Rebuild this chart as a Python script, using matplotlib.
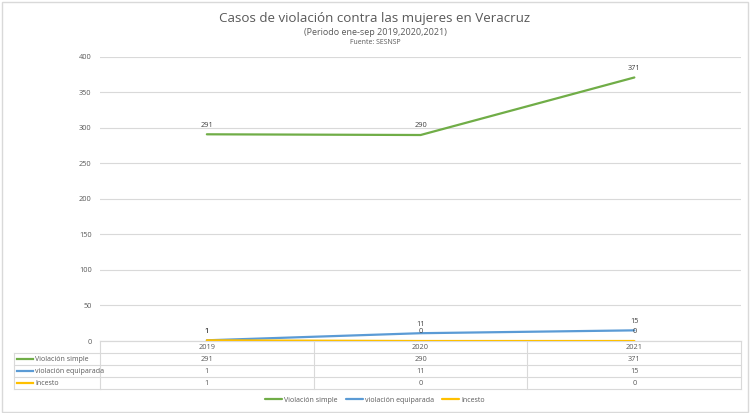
import numpy as np
import matplotlib.pyplot as plt
from matplotlib.lines import Line2D

plt.rcParams['font.family'] = ['Open Sans', 'DejaVu Sans']

anios = ['2019', '2020', '2021']
violacion_simple = [291, 290, 371]
violacion_equiparada = [1, 11, 15]
incesto = [1, 0, 0]

series = ['Violación simple', 'violación equiparada', 'Incesto']
valores = [violacion_simple, violacion_equiparada, incesto]
colores = ['#70AD47', '#5B9BD5', '#FFC000']

texto = '#595959'
grid = '#D9D9D9'

fig = plt.figure(figsize=(7.5, 4.13), dpi=100)
ax = fig.add_axes([0.1333, 0.1743, 0.855, 0.688])

x = np.arange(len(anios))
for nombre, vals, c in zip(series, valores, colores):
    ax.plot(x, vals, color=c, lw=1.6, label=nombre, solid_capstyle='round', zorder=3)

# etiquetas de datos
for vals in valores:
    for xi, v in zip(x, vals):
        ax.annotate(str(v), (xi, v), xytext=(0, 4), textcoords='offset points',
                    ha='center', va='bottom', fontsize=5.3, color='#404040')

ax.set_xlim(-0.5, len(anios) - 0.5)
ax.set_ylim(0, 400)
ax.set_yticks(range(0, 401, 50))
ax.yaxis.grid(True, color=grid, lw=0.8)
ax.set_axisbelow(True)
ax.tick_params(axis='y', labelsize=5.3, labelcolor=texto, length=0, pad=6)
ax.set_xticks([])
for s in ['top', 'right', 'left']:
    ax.spines[s].set_visible(False)
ax.spines['bottom'].set_color(grid)

# tabla de datos
trans = ax.get_xaxis_transform()
fila_h = 12 / 413 / 0.688  # alto de fila en fraccion de ejes
bordes_x = np.arange(len(anios) + 1) - 0.5
for i in range(5):
    y = -i * fila_h
    ax.plot([-0.5, 2.5], [y, y], color=grid, lw=0.8, transform=trans, clip_on=False)
for bx in bordes_x:
    ax.plot([bx, bx], [0, -4 * fila_h], color=grid, lw=0.8, transform=trans, clip_on=False)
for xi, a in zip(x, anios):
    ax.text(xi, -0.5 * fila_h, a, transform=trans, ha='center', va='center',
            fontsize=5.3, color=texto)
for j, (nombre, vals, c) in enumerate(zip(series, valores, colores)):
    yc = -(j + 1.5) * fila_h
    for xi, v in zip(x, vals):
        ax.text(xi, yc, str(v), transform=trans, ha='center', va='center',
                fontsize=5.3, color=texto)

# encabezados de fila (coordenadas de figura)
x0, x1 = 14 / 750, 0.1333
fig_fila = 12 / 413
y_top = 0.1743 - fig_fila
for i in range(4):
    yy = y_top - i * fig_fila
    fig.add_artist(Line2D([x0, x1], [yy, yy], color=grid, lw=0.8))
fig.add_artist(Line2D([x0, x0], [y_top, y_top - 3 * fig_fila], color=grid, lw=0.8))
for j, (nombre, c) in enumerate(zip(series, colores)):
    yc = y_top - (j + 0.5) * fig_fila
    fig.add_artist(Line2D([17 / 750, 33 / 750], [yc, yc], color=c, lw=1.6))
    fig.text(35 / 750, yc, nombre, ha='left', va='center', fontsize=5, color=texto)

# leyenda
fig.legend(loc='center', bbox_to_anchor=(0.5, 0.031), ncol=3, frameon=False,
           fontsize=5, labelcolor=texto, handlelength=2.4, columnspacing=1.2,
           handletextpad=0.3)

# titulos
fig.text(0.5, 0.955, 'Casos de violación contra las mujeres en Veracruz',
         ha='center', va='center', fontsize=9.6, color=texto)
fig.text(0.5, 0.921, '(Periodo ene-sep 2019,2020,2021)', ha='center', va='center',
         fontsize=6.5, color=texto)
fig.text(0.5, 0.896, 'Fuente: SESNSP', ha='center', va='center',
         fontsize=5, color=texto)

# borde del grafico
fig.add_artist(plt.Rectangle((0.002, 0.003), 0.995, 0.993, fill=False,
                             edgecolor='#D9D9D9', lw=1, transform=fig.transFigure))

fig.savefig('out.png', dpi=100)
